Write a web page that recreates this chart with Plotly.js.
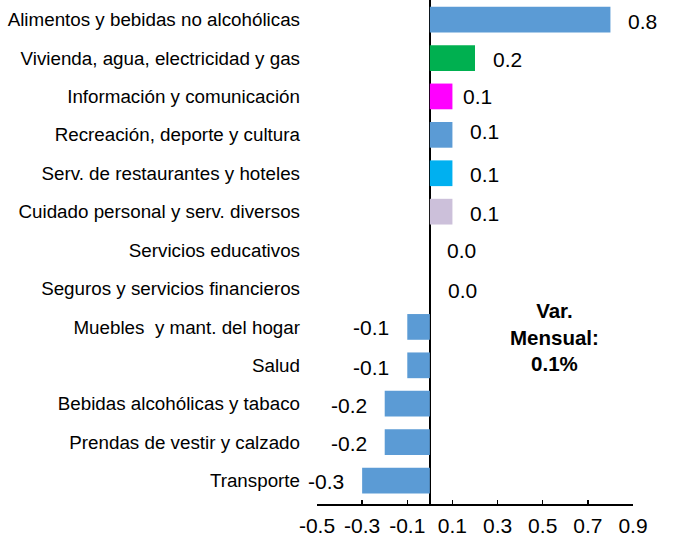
<!DOCTYPE html>
<html>
<head>
<meta charset="utf-8">
<script src="https://cdn.plot.ly/plotly-3.0.1.min.js"></script>
<style>html,body{margin:0;padding:0;background:#fff;}#chart{width:673px;height:538px;}</style>
</head>
<body>
<div id="chart"></div>
<script>
const categories = [
  "Alimentos y bebidas no alcohólicas",
  "Vivienda, agua, electricidad y gas",
  "Información y comunicación",
  "Recreación, deporte y cultura",
  "Serv. de restaurantes y hoteles",
  "Cuidado personal y serv. diversos",
  "Servicios educativos",
  "Seguros y servicios financieros",
  "Muebles\u00a0 y mant. del hogar",
  "Salud",
  "Bebidas alcohólicas y tabaco",
  "Prendas de vestir y calzado",
  "Transporte"
];
const values = [0.8, 0.2, 0.1, 0.1, 0.1, 0.1, 0.0, 0.0, -0.1, -0.1, -0.2, -0.2, -0.3];
const barColors = ["#5B9BD5", "#00B050", "#FF00FF", "#5B9BD5", "#00B0F0", "#CCC0DA",
  "#5B9BD5", "#5B9BD5", "#5B9BD5", "#5B9BD5", "#5B9BD5", "#5B9BD5", "#5B9BD5"];
const labelXShift = [16, 16, 9, 16, 16, 16, 15, 16, 16, 16, 16, 16, 16];
const labelYShift = [-2, -1, 0, 3, -1, -2, 0, -2, -1, -2, -2, -1, -1];
const tickVals = [-0.5, -0.3, -0.1, 0.1, 0.3, 0.5, 0.7, 0.9];
const tickText = ["-0.5", "-0.3", "-0.1", "0.1", "0.3", "0.5", "0.7", "0.9"];
const noteText = "<b>Var.</b><br><b>Mensual:</b><br><b>0.1%</b>";

const font = "Arial, 'Liberation Sans', sans-serif";

const trace = {
  type: "bar",
  orientation: "h",
  x: values,
  y: categories,
  marker: {color: barColors, line: {width: 0}},
  hoverinfo: "none"
};

const annotations = values.map((v, i) => ({
  x: v, y: categories[i], xref: "x", yref: "y",
  text: v.toFixed(1),
  showarrow: false,
  xanchor: v < 0 ? "right" : "left",
  yanchor: "middle",
  xshift: v < 0 ? -labelXShift[i] : labelXShift[i],
  yshift: labelYShift[i],
  font: {family: font, size: 21, color: "#000"}
}));
annotations.push({
  x: 0.55, y: 8.26, xref: "x", yref: "y",
  text: noteText, showarrow: false,
  xanchor: "center", yanchor: "middle",
  align: "center",
  font: {family: font, size: 20.5, color: "#000"}
});

const layout = {
  width: 673, height: 538,
  margin: {l: 317, r: 40, t: 0, b: 34, pad: 0},
  paper_bgcolor: "#fff", plot_bgcolor: "#fff",
  showlegend: false,
  bargap: 0.33,
  font: {family: font, color: "#000"},
  xaxis: {
    range: [-0.5, 0.9],
    tickvals: tickVals, ticktext: tickText,
    ticks: "inside", ticklen: 4, tickwidth: 1.5, tickcolor: "#000",
    showline: true, linecolor: "#000", linewidth: 1.5,
    showgrid: false,
    zeroline: true, zerolinecolor: "#000", zerolinewidth: 1.5,
    tickfont: {family: font, size: 21, color: "#000"},
    ticklabelstandoff: 2
  },
  yaxis: {
    type: "category",
    categoryorder: "array", categoryarray: categories,
    range: [12.61, -0.51],
    showline: false, showgrid: false, zeroline: false,
    ticks: "",
    tickfont: {family: font, size: 18.8, color: "#000"},
    ticklabelstandoff: 16
  },
  annotations: annotations
};

Plotly.newPlot("chart", [trace], layout, {displayModeBar: false, staticPlot: true});
</script>
</body>
</html>
